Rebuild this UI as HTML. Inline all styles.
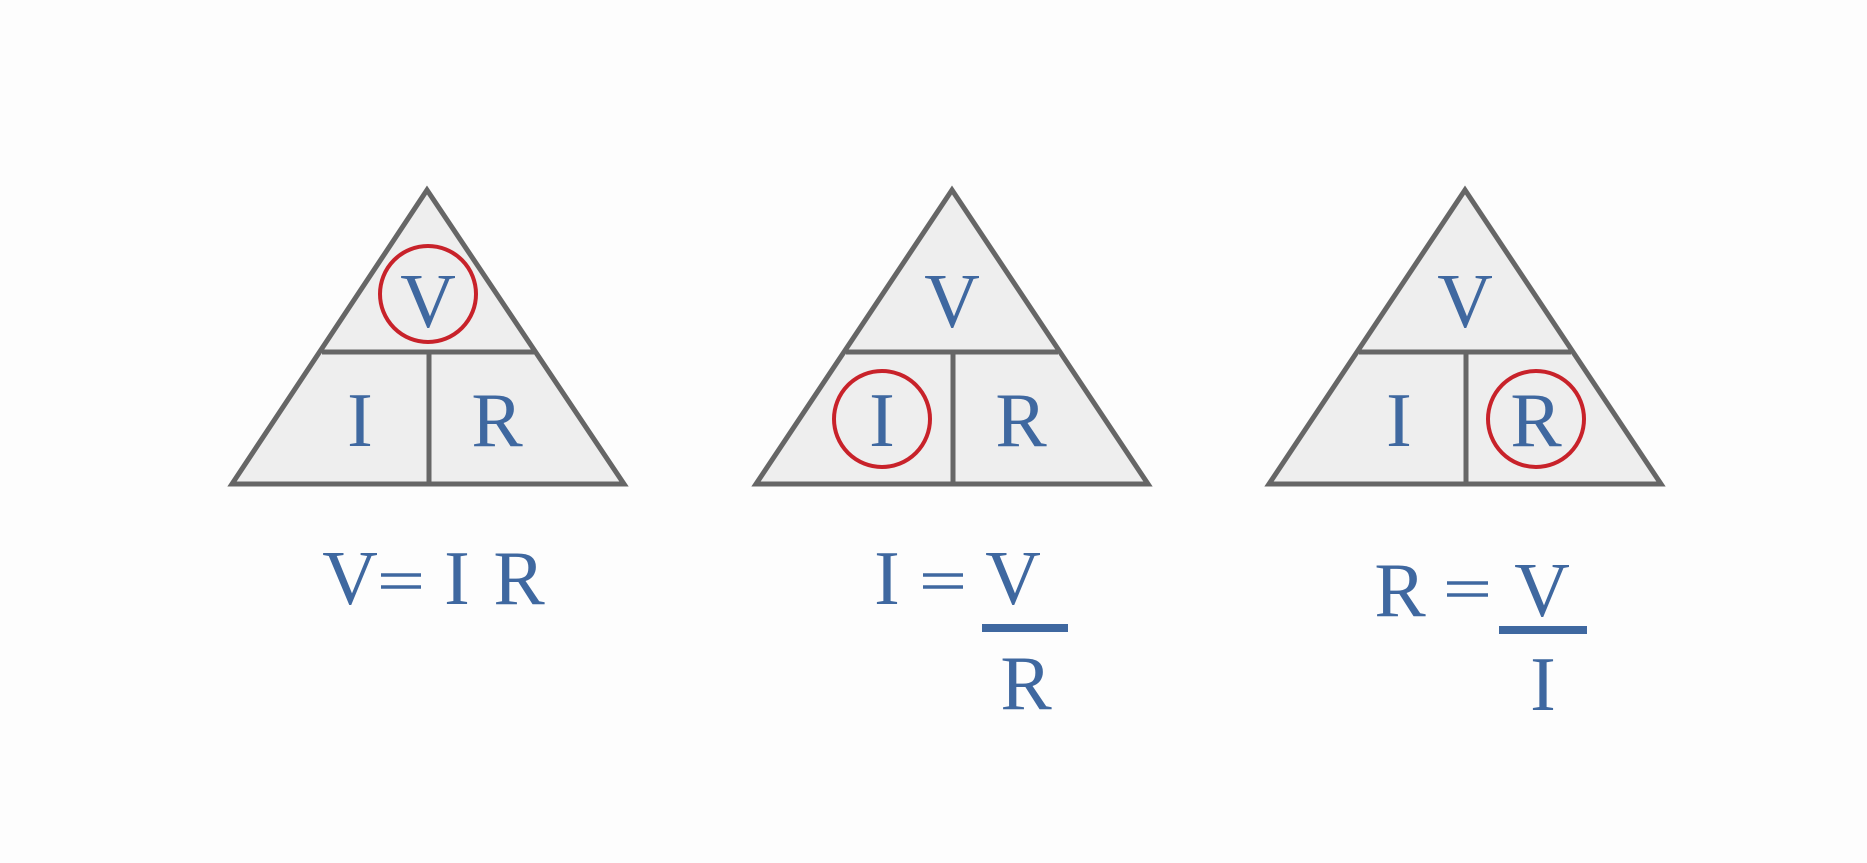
<!DOCTYPE html>
<html><head><style>html,body{margin:0;padding:0;background:#fdfdfd;}svg{display:block}</style></head><body>
<svg width="1867" height="863" viewBox="0 0 1867 863" xmlns="http://www.w3.org/2000/svg">
<rect width="1867" height="863" fill="#fdfdfd"/>
<g stroke="#666" stroke-width="5" fill="#eeeeee" stroke-linejoin="miter">
<polygon points="427,190 232,484 624,484"/>
<line x1="322" y1="352" x2="534" y2="352"/><line x1="429" y1="352" x2="429" y2="484"/>
<polygon points="952,190 756,484 1148,484"/>
<line x1="846" y1="352" x2="1058" y2="352"/><line x1="953" y1="352" x2="953" y2="484"/>
<polygon points="1465,190 1269,484 1661,484"/>
<line x1="1359" y1="352" x2="1571" y2="352"/><line x1="1466" y1="352" x2="1466" y2="484"/>
</g>
<g fill="none" stroke="#c8222a" stroke-width="4">
<circle cx="428" cy="294" r="48"/>
<circle cx="882" cy="419" r="48"/>
<circle cx="1536" cy="419" r="48"/>
</g>
<g font-family="Liberation Serif, serif" font-size="77" fill="#3f68a0" text-anchor="middle">
<text x="428" y="327">V</text><text x="360" y="446">I</text><text x="497" y="446">R</text>
<text x="952" y="327">V</text><text x="882" y="446">I</text><text x="1021" y="446">R</text>
<text x="1465" y="327">V</text><text x="1399" y="446">I</text><text x="1536" y="446">R</text>
<text x="350" y="604">V</text><text x="457" y="604">I</text><text x="519" y="604">R</text>
<text x="887" y="604">I</text><text x="1013" y="604">V</text><text x="1026" y="709">R</text>
<text x="1400" y="616">R</text><text x="1542" y="616">V</text><text x="1543" y="710">I</text>
</g>
<g stroke="#3f68a0" stroke-width="3.5">
<line x1="381" y1="575" x2="421" y2="575"/><line x1="381" y1="587" x2="421" y2="587"/>
<line x1="923" y1="575" x2="963" y2="575"/><line x1="923" y1="587" x2="963" y2="587"/>
<line x1="1447" y1="583" x2="1488" y2="583"/><line x1="1447" y1="595" x2="1488" y2="595"/>
</g>
<g fill="#3f68a0">
<rect x="982" y="624" width="86" height="8"/>
<rect x="1499" y="626" width="88" height="8"/>
</g>
</svg>
</body></html>
